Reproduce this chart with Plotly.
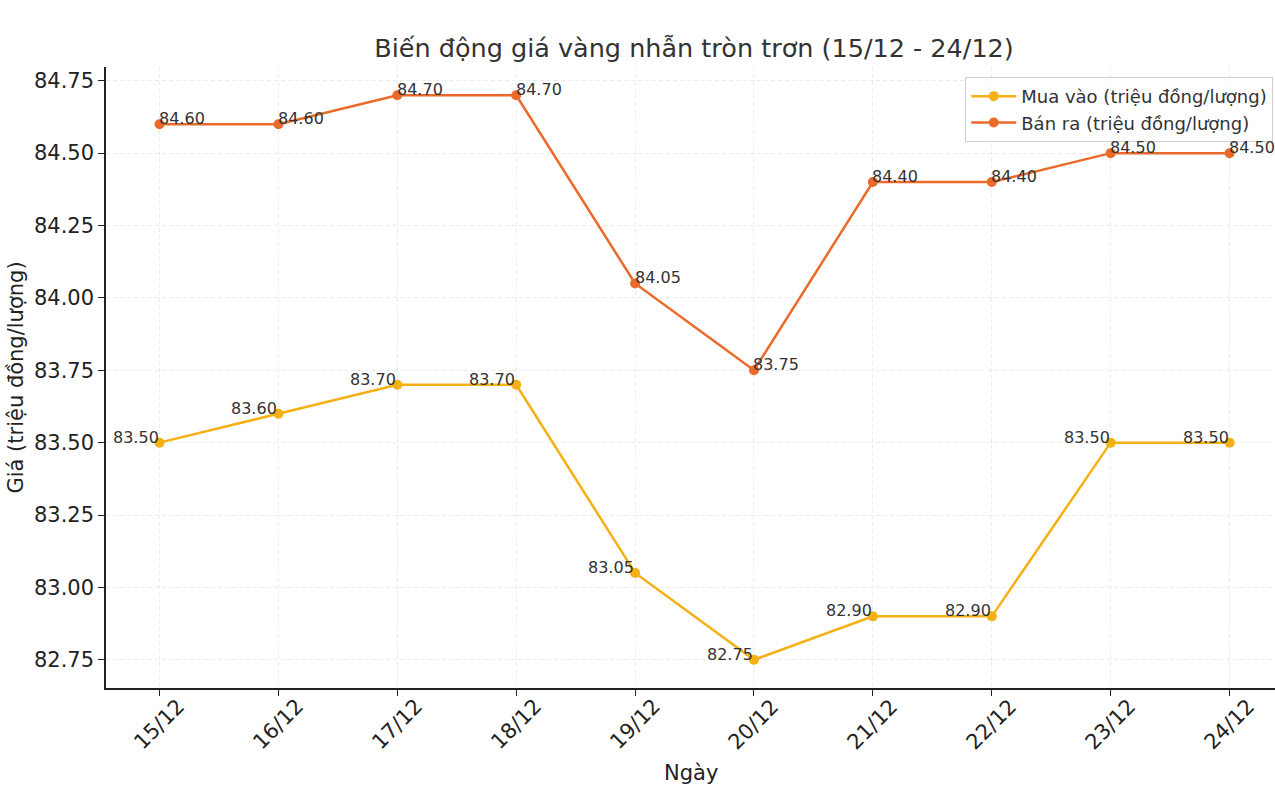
import plotly.graph_objects as go

dates = ["15/12", "16/12", "17/12", "18/12", "19/12", "20/12", "21/12", "22/12", "23/12", "24/12"]
buy = [83.50, 83.60, 83.70, 83.70, 83.05, 82.75, 82.90, 82.90, 83.50, 83.50]
sell = [84.60, 84.60, 84.70, 84.70, 84.05, 83.75, 84.40, 84.40, 84.50, 84.50]
yticks = [82.75, 83.00, 83.25, 83.50, 83.75, 84.00, 84.25, 84.50, 84.75]

buy_name = "Mua vào (triệu đồng/lượng)"
sell_name = "Bán ra (triệu đồng/lượng)"
title = "Biến động giá vàng nhẫn tròn trơn (15/12 - 24/12)"
xtitle = "Ngày"
ytitle = "Giá (triệu đồng/lượng)"

BUY_C = "#f5b014"
SELL_C = "#eb6a2a"
FONT = "DejaVu Sans"
TXT = "#333333"

xs = list(range(len(dates)))

fig = go.Figure()
fig.add_trace(go.Scatter(x=xs, y=buy, mode="lines+markers", name=buy_name,
                         line=dict(color=BUY_C, width=2.5),
                         marker=dict(size=10, color=BUY_C)))
fig.add_trace(go.Scatter(x=xs, y=sell, mode="lines+markers", name=sell_name,
                         line=dict(color=SELL_C, width=2.5),
                         marker=dict(size=10, color=SELL_C)))

ann = []
for i, v in enumerate(buy):
    ann.append(dict(x=i, y=v, xref="x", yref="y", text=f"{v:.2f}", showarrow=False,
                    xanchor="right", yanchor="bottom", yshift=-6, xshift=1,
                    font=dict(family=FONT, size=16, color=TXT)))
for i, v in enumerate(sell):
    ann.append(dict(x=i, y=v, xref="x", yref="y", text=f"{v:.2f}", showarrow=False,
                    xanchor="left", yanchor="bottom", yshift=-6, xshift=-2.5,
                    font=dict(family=FONT, size=16, color=TXT)))
for i, d in enumerate(dates):
    ann.append(dict(x=i, y=-0.058, xref="x", yref="paper", text=d, showarrow=False,
                    textangle=-45, xanchor="center", yanchor="middle",
                    font=dict(family=FONT, size=21, color="#222222")))
ann.append(dict(x=0.5, y=-0.137, xref="paper", yref="paper", text=xtitle, showarrow=False,
                xanchor="center", yanchor="middle",
                font=dict(family=FONT, size=21, color="#222222")))

fig.update_layout(
    width=1275, height=795,
    margin=dict(l=106, r=0, t=67, b=107),
    paper_bgcolor="white", plot_bgcolor="white",
    font=dict(family=FONT, color="#222222"),
    title=dict(text=title, x=694/1275, xref="container", xanchor="center",
               y=1 - 48/795, yref="container", yanchor="middle",
               font=dict(family=FONT, size=25.5, color=TXT)),
    annotations=ann,
    showlegend=True,
    legend=dict(x=0.9985, xanchor="right", y=0.984, yanchor="top",
                bgcolor="rgba(255,255,255,0.8)", bordercolor="#d0d0d0", borderwidth=1,
                font=dict(family=FONT, size=18, color=TXT), tracegroupgap=2,
                itemwidth=45),
)
fig.update_xaxes(range=[-0.45, 9.382], tickvals=xs, ticktext=dates, showticklabels=False,
                 showline=True, linecolor="#222222", linewidth=1.5,
                 ticks="outside", ticklen=6, tickwidth=1.3, tickcolor="#222222",
                 showgrid=True, gridcolor="#ebebeb", griddash="4px,3px", gridwidth=1,
                 zeroline=False)
fig.update_yaxes(range=[82.6525, 84.7975], tickvals=yticks,
                 ticktext=[f"{t:.2f}" for t in yticks],
                 showline=True, linecolor="#222222", linewidth=1.5,
                 ticks="outside", ticklen=6, tickwidth=1.3, tickcolor="#222222",
                 tickfont=dict(family=FONT, size=21, color="#222222"),
                 showgrid=True, gridcolor="#ebebeb", griddash="4px,3px", gridwidth=1,
                 zeroline=False,
                 title=dict(text=ytitle, font=dict(family=FONT, size=21, color="#222222"),
                            standoff=5))

fig.write_html("out.html")
